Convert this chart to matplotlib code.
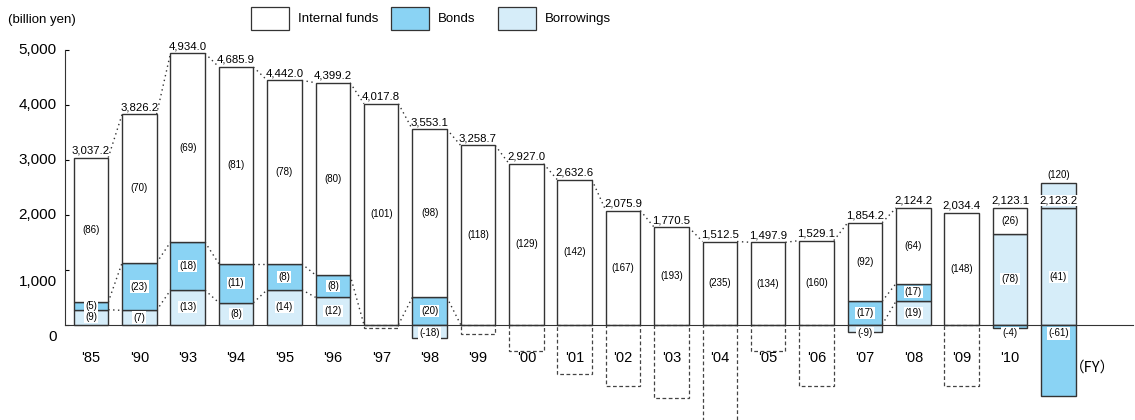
import matplotlib
matplotlib.use('Agg')
import matplotlib.pyplot as plt
from matplotlib.patches import Rectangle
from matplotlib.transforms import offset_copy

plt.rcParams['font.family'] = ['Liberation Sans', 'DejaVu Sans']

# Data (billion yen)
years = ["'85", "'90", "'93", "'94", "'95", "'96", "'97", "'98", "'99", "'00", "'01",
         "'02", "'03", "'04", "'05", "'06", "'07", "'08", "'09", "'10", "'11"]
totals = [3037.2, 3826.2, 4934.0, 4685.9, 4442.0, 4399.2, 4017.8, 3553.1, 3258.7, 2927.0, 2632.6,
          2075.9, 1770.5, 1512.5, 1497.9, 1529.1, 1854.2, 2124.2, 2034.4, 2123.1, 2123.2]
borrowings = [273, 260, 629, 400, 636, 497, 0, -250, 0, 0, 0,
              0, 0, 0, 0, 0, -131, 427, 0, 1658, 2124]
bonds = [138, 867, 873, 709, 473, 405, 0, 497, 0, 0, 0,
         0, 0, 0, 0, 0, 427, 322, 0, -58, -1303]
outflow = [0, 0, 0, 0, 0, 0, -55, 0, -170, -482, -891,
           -1118, -1327, -2040, -476, -1112, 0, 0, -1118, 0, 0]
extra_borrow = [0] * 20 + [461]

internal_pct = [86, 70, 69, 81, 78, 80, 101, 98, 118, 129, 142,
                167, 193, 235, 134, 160, 92, 64, 148, 26, 120]
bonds_pct = [5, 23, 18, 11, 8, 8, None, 20, None, None, None,
             None, None, None, None, None, 17, 17, None, -4, -61]
borrow_pct = [9, 7, 13, 8, 14, 12, None, -18, None, None, None,
              None, None, None, None, None, -9, 19, None, 78, 41]

c_bond = '#8ad3f4'
c_borrow = '#d6edf9'
edge = '#333333'
pct_fs = 7

W, H = 1135, 420
fig = plt.figure(figsize=(W / 100, H / 100), dpi=100)
ax = fig.add_axes([65 / W, 0, (1133 - 65) / W, 1])

zero_px, scale = 324.7, 0.055
step = 48.37
ax.set_xlim(-26 / step, (1133 - 91) / step)
ax.set_ylim(-(H - zero_px) / scale, zero_px / scale)

bw = 0.713
bar_kw = dict(width=bw, edgecolor=edge, linewidth=1.0, zorder=2)
white_box = dict(fc='white', ec='none', pad=0.8)

col_tops = []
bor_tops = []
for i, yr in enumerate(years):
    b, d, t = borrowings[i], bonds[i], totals[i]
    base = 0
    if b > 0:
        ax.bar(i, b, bottom=0, color=c_borrow, **bar_kw)
        if borrow_pct[i] is not None:
            ax.text(i, b / 2 if extra_borrow[i] == 0 else 862, f"({borrow_pct[i]})", ha='center',
                    va='center', fontsize=pct_fs, zorder=5, bbox=white_box)
        base = b
    bor_tops.append(max(b, 0))
    if d > 0:
        ax.bar(i, d, bottom=base, color=c_bond, **bar_kw)
        ax.text(i, base + d / 2, f"({bonds_pct[i]})", ha='center', va='center',
                fontsize=pct_fs, zorder=5, bbox=white_box)
        base += d
    col_tops.append(base)
    # internal funds
    if t - base > 1:
        ax.bar(i, t - base, bottom=base, color='white', **bar_kw)
        ax.text(i, base + (t - base) / 2, f"({internal_pct[i]})", ha='center', va='center',
                fontsize=pct_fs, zorder=5)
    # negatives
    if b < 0:
        ax.bar(i, b, bottom=0, color=c_borrow, **bar_kw)
        ax.text(i, -160, f"({borrow_pct[i]})", ha='center', va='center', fontsize=pct_fs,
                zorder=5, bbox=white_box)
    if d < 0:
        ax.bar(i, d, bottom=0, color=c_bond, **bar_kw)
        ax.text(i, -160, f"({bonds_pct[i]})", ha='center', va='center', fontsize=pct_fs,
                zorder=5, bbox=white_box)
    if outflow[i] < 0:
        ax.bar(i, outflow[i], bottom=0, width=bw, fill=False, edgecolor='#444444',
               linewidth=0.9, linestyle=(0, (3, 2)), zorder=2)
    # extra box on top ('11)
    if extra_borrow[i] > 0:
        ax.bar(i, extra_borrow[i], bottom=base, color=c_borrow, **bar_kw)
        ax.text(i, base + extra_borrow[i], f"({internal_pct[i]})",
                transform=offset_copy(ax.transData, fig=fig, y=2, units='points'),
                ha='center', va='bottom', fontsize=pct_fs, zorder=5)
        ax.text(i, t, f"{t:,.1f}", transform=offset_copy(ax.transData, fig=fig, y=1.5, units='points'),
                ha='center', va='bottom', fontsize=8.2, zorder=5,
                bbox=dict(fc='white', ec='none', pad=0.3))
    else:
        ax.text(i, t, f"{t:,.1f}", transform=offset_copy(ax.transData, fig=fig, y=1.5, units='points'),
                ha='center', va='bottom', fontsize=8.2, zorder=5)

# dotted connectors
dot = dict(color='#333333', linewidth=1.0, linestyle=(0, (1, 2.5)), zorder=1)
for i in range(17):
    ax.plot([i + bw / 2, i + 1 - bw / 2], [totals[i], totals[i + 1]], **dot)
for i in list(range(8)) + [16]:
    ax.plot([i + bw / 2, i + 1 - bw / 2], [col_tops[i], col_tops[i + 1]], **dot)
for i in list(range(5)) + [16]:
    ax.plot([i + bw / 2, i + 1 - bw / 2], [bor_tops[i], bor_tops[i + 1]], **dot)

# axes styling
for s in ['top', 'right']:
    ax.spines[s].set_visible(False)
ax.spines['left'].set_bounds(0, 5000)
ax.spines['left'].set_color(edge)
ax.spines['bottom'].set_position(('data', 0))
ax.spines['bottom'].set_color(edge)
ax.spines['bottom'].set_zorder(4)
ax.set_yticks(range(0, 5001, 1000))
ax.tick_params(axis='y', direction='in', length=3, width=0.8, labelleft=False)
ax.set_xticks(range(len(years)))
ax.set_xticklabels(years, fontsize=10.5)
ax.tick_params(axis='x', length=0, pad=19)
ax.patch.set_visible(False)

for v in range(0, 5001, 1000):
    dy = -9 if v <= 1000 else 0
    ax.text(-0.0078, v, f"{v:,}", ha='right', va='center', fontsize=11,
            transform=offset_copy(ax.get_yaxis_transform(), fig=fig, y=dy, units='points'))

ax.text(len(years) - 1 + 0.7, 0, "（FY）", ha='center', va='top', fontsize=10.5,
        family=['Noto Sans CJK JP', 'Liberation Sans'],
        transform=offset_copy(ax.transData, fig=fig, y=-26, units='points'))

fig.text(8 / W, 1 - 20 / H, "(billion yen)", ha='left', va='center', fontsize=9.5)

# legend
for x0, fc, label in [(251, 'white', 'Internal funds'), (391, c_bond, 'Bonds'), (498, c_borrow, 'Borrowings')]:
    fig.add_artist(Rectangle((x0 / W, 1 - 30 / H), 37.6 / W, 22.7 / H, transform=fig.transFigure,
                             facecolor=fc, edgecolor=edge, linewidth=0.9))
    fig.text((x0 + 47) / W, 1 - 19 / H, label, ha='left', va='center', fontsize=9.5)

fig.savefig('out.png', dpi=100)
